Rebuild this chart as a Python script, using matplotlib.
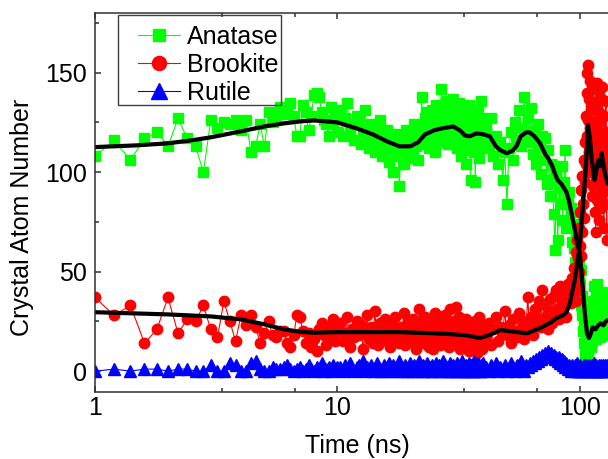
import numpy as np
import matplotlib.pyplot as plt
from matplotlib.patches import Rectangle
from matplotlib.ticker import FixedLocator, NullFormatter

plt.rcParams["font.family"] = ["Liberation Sans", "DejaVu Sans"]

# ------------------------------------------------------------
# Crystal atom count per phase during the MD run
# sampling: 0.2 ns up to 10 ns, 0.25 ns up to 40 ns,
# 1 ns up to 94 ns, 0.5 ns through the transition
# ------------------------------------------------------------
t_early = np.round(np.arange(1.0, 10.01, 0.2), 2)
t_mid = np.round(np.arange(10.25, 40.01, 0.25), 2)
t_late = np.arange(41.0, 94.5, 1.0)
t_end = np.arange(94.5, 130.25, 0.5)
time_ns = np.concatenate([t_early, t_mid, t_late, t_end])

anatase = [
    # 1.0 - 10.0 ns
    108, 116, 106, 117, 120, 113, 127, 117, 113, 100, 126, 122, 125, 124, 126, 121,
    126, 110, 113, 124, 113, 130, 125, 128, 133, 133, 129, 135, 128, 118, 118, 134,
    130, 121, 128, 139, 140, 138, 130, 126, 124, 118, 133, 124, 128, 120,
    # 10.25 - 40 ns
    131, 118, 127, 135, 120, 124, 116, 128, 126, 114, 121, 131, 117, 112, 124, 120,
    110, 122, 115, 126, 108, 118, 113, 121, 105, 117, 111, 100, 119, 108, 115, 93,
    110, 118, 104, 114, 121, 107, 112, 116, 119, 109, 124, 113, 118, 106, 121, 115,
    138, 122, 114, 127, 118, 130, 112, 124, 116, 131, 121, 126, 110, 134, 119, 125,
    128, 115, 142, 123, 127, 118, 133, 121, 136, 114, 125, 130, 119, 128, 122, 137,
    126, 117, 131, 112, 124, 121, 135, 118, 108, 128, 114, 125, 119, 130, 104, 122,
    116, 127, 111, 134, 120, 96, 124, 117, 122, 110, 128, 95, 119, 125, 113, 131,
    116, 107, 127, 121, 136, 112, 118, 124,
    # 41 - 94 ns
    121, 113, 127, 108, 118, 104, 115, 96, 110, 84, 112, 120, 106, 125, 116, 131,
    113, 122, 138, 118, 127, 115, 132, 109, 121, 104, 124, 112, 99, 118, 106, 117,
    94, 111, 88, 104, 96, 79, 61, 100, 66, 92, 84, 103, 76, 95, 111, 72, 86, 90,
    74, 82, 65, 80,
    # 94.5 - 130 ns
    62, 80, 55, 70, 66, 58, 74, 52, 60, 47, 56, 44, 40, 51, 33, 28, 38, 20, 14, 24,
    8, 11, 3, 7, 0, 12, 5, 17, 9, 22, 14, 19, 26, 12, 31, 20, 15, 35, 24, 18, 43, 27,
    21, 38, 16, 29, 44, 23, 19, 33, 26, 20, 31, 24, 17, 36, 22, 28, 40, 19, 27, 32,
    23, 35, 18, 29, 25, 38, 21, 30, 26, 33,
]

brookite = [
    # 1.0 - 10.0 ns
    37, 28, 33, 14, 21, 37, 19, 26, 25, 33, 21, 17, 35, 25, 15, 28, 23, 28, 22, 14,
    19, 25, 18, 17, 20, 20, 14, 12, 18, 28, 27, 20, 14, 19, 12, 16, 10, 21, 24, 18,
    13, 22, 17, 26, 15, 20,
    # 10.25 - 40 ns
    24, 15, 19, 27, 12, 21, 17, 25, 18, 23, 11, 20, 28, 16, 22, 14, 30, 19, 13, 24,
    17, 21, 26, 15, 20, 12, 23, 18, 27, 16, 21, 14, 22, 17, 29, 13, 19, 24, 16, 20,
    15, 26, 18, 11, 22, 20, 31, 17, 23, 14, 19, 27, 16, 21, 12, 24, 18, 25, 11, 20,
    29, 15, 22, 17, 24, 13, 19, 26, 16, 21, 28, 14, 19, 23, 12, 20, 31, 17, 22, 15,
    25, 18, 32, 13, 20, 16, 27, 11, 19, 23, 15, 21, 14, 22, 17, 26, 12, 19, 24, 10,
    18, 21, 15, 23, 17, 12, 20, 25, 14, 18, 9, 22, 16, 27, 13, 19, 24, 11, 21, 17,
    # 41 - 94 ns
    17, 24, 13, 21, 27, 15, 22, 19, 30, 18, 23, 14, 26, 20, 17, 29, 21, 25, 16, 24,
    37, 20, 27, 18, 31, 23, 26, 35, 22, 41, 25, 33, 28, 21, 36, 30, 24, 38, 27, 41,
    31, 26, 43, 35, 29, 39, 33, 27, 44, 36, 40, 34, 47, 42,
    # 94.5 - 130 ns
    38, 52, 44, 60, 35, 48, 66, 41, 57, 72, 50, 63, 80, 58, 91, 70, 98, 84, 106, 77,
    115, 95, 128, 104, 140, 118, 150, 126, 154, 110, 137, 122, 146, 100, 131, 88,
    119, 142, 93, 125, 108, 80, 134, 70, 112, 98, 145, 86, 121, 104, 76, 130,
    94, 138, 108, 82, 126, 115, 143, 90, 118, 100, 72, 128, 96, 112, 84, 136, 103,
    66, 120, 92,
]

rutile = [
    # 1.0 - 10.0 ns
    0, 1, 0, 1, 1, 0, 1, 1, 0, 0, 3, 0, 0, 4, 3, 0, 0, 4, 5, 1, 0, 0, 2, 1, 1, 2,
    3, 1, 0, 1, 2, 0, 1, 3, 1, 0, 2, 1, 4, 0, 1, 2, 0, 3, 1, 2,
    # 10.25 - 40 ns
    2, 0, 3, 1, 4, 1, 0, 2, 3, 1, 5, 0, 2, 1, 3, 0, 1, 4, 2, 0, 1, 3, 0, 2, 4, 1,
    0, 3, 1, 2, 0, 5, 1, 2, 0, 3, 1, 0, 2, 4, 0, 1, 3, 1, 0, 2, 5, 1, 0, 3, 2, 0,
    1, 4, 1, 2, 0, 3, 0, 1, 2, 4, 1, 0, 3, 1, 2, 0, 5, 1, 3, 0, 2, 1, 0, 4, 2, 1,
    0, 3, 1, 2, 0, 4, 1, 0, 2, 3, 1, 0, 5, 2, 0, 1, 3, 0, 2, 1, 4, 0, 1, 3, 0, 2,
    1, 5, 0, 2, 3, 1, 0, 4, 1, 2, 0, 3, 1, 0, 2, 4,
    # 41 - 94 ns
    2, 0, 3, 1, 4, 0, 2, 1, 3, 0, 1, 4, 2, 0, 3, 1, 5, 2, 0, 3, 2, 4, 3, 5, 4, 6,
    5, 7, 6, 8, 7, 9, 8, 10, 8, 9, 7, 8, 6, 7, 5, 7, 4, 6, 3, 5, 2, 4, 1, 3, 2, 0,
    3, 1,
    # 94.5 - 130 ns
    2, 0, 3, 1, 2, 0, 4, 1, 2, 0, 1, 3, 0, 2, 1, 0, 2, 1, 3, 0, 1, 2, 0, 3, 1, 2,
    0, 1, 2, 0, 3, 1, 2, 0, 1, 3, 0, 2, 1, 4, 0, 2, 1, 0, 3, 1, 2, 0, 2, 1, 0, 3,
    1, 2, 0, 3, 1, 0, 2, 1, 3, 0, 2, 1, 0, 3, 1, 2, 0, 1, 3, 1,
]

# smoothed trends (running average) drawn as thick black curves
trend_anatase_t = [1, 1.5, 2, 2.5, 3, 4, 5, 6, 7, 8, 9, 10, 12, 14, 16, 18, 20, 21.5,
                   23, 25, 27, 30, 32, 33.5, 35, 37.5, 40, 42.5, 45, 47, 50, 53, 55,
                   57, 60, 62, 65, 68.5, 72, 74, 77, 79, 81, 84, 86, 88, 90, 92.5, 95,
                   97, 100, 101.5, 103, 105, 107, 109, 111, 113, 116, 119, 122, 125,
                   128, 130, 140]
trend_anatase_y = [112.6, 113.5, 114.5, 116, 117.5, 120.5, 123, 124.5, 125.5, 126, 125.5,
                   125, 122, 119, 115.5, 113, 113, 115, 119, 121, 122, 123, 121, 118.5,
                   118, 119.5, 119, 118, 113, 111, 109.5, 111, 113.5, 118, 120, 120,
                   118, 114.5, 109, 107, 103, 99, 96, 94, 92, 90, 86, 79, 72, 66, 59,
                   50, 40.7, 28, 19, 16.6, 19, 22, 21, 23, 24, 23, 25, 25.6, 26]

trend_brookite_t = [1, 2, 3, 4, 5, 6, 7, 8, 10, 13, 18, 25, 30, 34, 38.7, 42, 47, 52,
                    56, 60.6, 65, 68.5, 72, 76, 80, 85, 88, 91, 92.6, 95, 97, 100, 102,
                    104, 106, 107, 108, 110, 112, 115, 117, 119, 121, 123, 125, 127,
                    130, 140]
trend_brookite_y = [29.6, 28.5, 27.5, 26, 23.5, 21, 19.8, 19.3, 19.6, 19.6, 19.6, 19,
                    18.5, 18, 16.6, 18, 20.6, 20, 19.5, 19, 20.5, 21.6, 23, 24.5, 26.6,
                    28, 29.6, 34, 39, 45, 52, 64, 77, 90, 104, 112, 123.6, 117, 106, 96,
                    101, 106, 103, 109.5, 104, 99, 94.5, 92]

GREEN = "#00ff00"
RED = "#ff0000"
BLUE = "#0000ff"

fig = plt.figure(figsize=(6.08, 4.59), dpi=100)
# axes runs past the right edge of the figure
ax = fig.add_axes([95 / 608, 1 - 392 / 459, 524 / 608, 379 / 459])

ax.plot(time_ns, anatase, "-s", color=GREEN, mec=GREEN, mfc=GREEN, ms=6.5, lw=0.8,
        label="Anatase")
ax.plot(time_ns, brookite, "-o", color=RED, mec=RED, mfc=RED, ms=7.5, lw=0.8,
        label="Brookite")
ax.plot(time_ns, rutile, "-^", color=BLUE, mec=BLUE, mfc=BLUE, ms=8.5, lw=0.8,
        label="Rutile")

ax.plot(trend_anatase_t, trend_anatase_y, color="black", lw=3.0, solid_capstyle="round")
ax.plot(trend_brookite_t, trend_brookite_y, color="black", lw=3.0, solid_capstyle="round")

ax.set_xscale("log")
ax.set_xlim(1, 145)
ax.set_ylim(-10.5, 180)

ax.xaxis.set_major_locator(FixedLocator([1, 10, 100]))
ax.xaxis.set_minor_locator(FixedLocator([10 / 3, 20 / 3, 100 / 3, 200 / 3, 400 / 3]))
ax.xaxis.set_major_formatter(plt.FuncFormatter(lambda v, p: f"{v:g}"))
ax.xaxis.set_minor_formatter(NullFormatter())
ax.yaxis.set_major_locator(FixedLocator([0, 50, 100, 150]))
ax.yaxis.set_minor_locator(FixedLocator([25, 75, 125, 175]))

ax.tick_params(which="both", direction="in", top=True, right=False, color="#303030",
               width=1.1, labelsize=18)
ax.tick_params(which="major", length=4.5)
ax.tick_params(which="minor", length=3)
ax.tick_params(axis="x", pad=3)
ax.tick_params(axis="y", pad=5.5)

for side in ["left", "bottom", "top", "right"]:
    ax.spines[side].set_color("#303030")
    ax.spines[side].set_linewidth(1.1)

ax.set_xlabel("Time (ns)", fontsize=18)
ax.set_ylabel("Crystal Atom Number", fontsize=18)
ax.xaxis.set_label_coords((357 - 95) / 524, -0.112)
ax.yaxis.set_label_coords(-0.117, 0.462)

leg = ax.legend(loc="upper left", bbox_to_anchor=(138 / 608, 1 - 25 / 459),
                bbox_transform=fig.transFigure, frameon=False, fontsize=18,
                borderpad=0, borderaxespad=0, labelspacing=0.16, handlelength=1.68,
                handletextpad=0.28, markerscale=1.35)

# legend frame
fig.add_artist(Rectangle((118 / 608, 1 - 105 / 459), 163 / 608, 90 / 459,
                         transform=fig.transFigure, fill=False, edgecolor="#404040",
                         linewidth=1.0, zorder=5))

fig.savefig("out.png", dpi=100)
